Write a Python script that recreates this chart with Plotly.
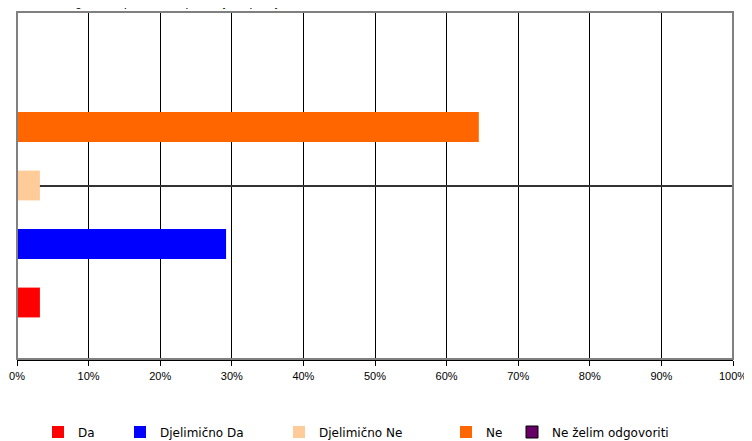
import plotly.graph_objects as go

categories = ["Da", "Djelimično Da", "Djelimično Ne", "Ne", "Ne želim odgovoriti"]
values = [3.2, 29.2, 3.2, 64.5, 0.0]
colors = ["#FF0000", "#0000FF", "#FFCC99", "#FF6600", "#660066"]
tick_vals = [0, 10, 20, 30, 40, 50, 60, 70, 80, 90, 100]
tick_text = ["0%", "10%", "20%", "30%", "40%", "50%", "60%", "70%", "80%", "90%", "100%"]
legend_px = [66, 148, 307, 474, 540]

# page body has an 8px margin; figure is sized to fill the rest of the window
OFF = 8
W, H = 752 - OFF, 441 - OFF
ml, mr, mt, mb = 17 - OFF, 19, 12 - OFF, 82
pw, ph = W - ml - mr, H - mt - mb

fig = go.Figure()
legend_names = ["legend", "legend2", "legend3", "legend4", "legend5"]
for i, (c, v, col) in enumerate(zip(categories, values, colors)):
    fig.add_trace(go.Bar(
        y=["Q"], x=[v], name=c, orientation="h",
        marker=dict(color=col, line=dict(color="#000000" if i == 4 else col, width=1 if i == 4 else 0)),
        legend=legend_names[i],
    ))

leg_font = dict(family="DejaVu Sans, Liberation Sans, sans-serif", size=12, color="#000000")
layout_legends = {}
for i, ln in enumerate(legend_names):
    fx = legend_px[i] - 28 - OFF
    layout_legends[ln] = dict(
        x=(fx - ml) / pw, xanchor="left",
        y=-(432 - 359) / ph, yanchor="middle",
        font=leg_font, bgcolor="rgba(0,0,0,0)", borderwidth=0,
        itemwidth=30, orientation="h",
    )

fig.update_layout(
    width=W, height=H,
    margin=dict(l=ml, r=mr, t=mt, b=mb, autoexpand=False),
    paper_bgcolor="white", plot_bgcolor="white",
    barmode="group", bargap=0.157, bargroupgap=0.49,
    showlegend=True,
    xaxis=dict(
        range=[0, 100], tickvals=tick_vals, ticktext=tick_text,
        showgrid=True, gridcolor="#000000", gridwidth=1,
        showline=True, linecolor="#000000", linewidth=2,
        ticks="outside", ticklen=5, tickcolor="#000000",
        ticklabelstandoff=1,
        tickfont=dict(family="Liberation Sans, Arial, sans-serif", size=11, color="#000000"),
        zeroline=False, fixedrange=True, automargin=False,
    ),
    yaxis=dict(
        showticklabels=False, showgrid=True, gridcolor="#333333", gridwidth=2,
        showline=False, ticks="", zeroline=False, fixedrange=True, automargin=False,
    ),
    shapes=[dict(type="rect", xref="paper", yref="paper", x0=0, x1=1, y0=0, y1=1,
                 line=dict(color="#808080", width=2), layer="above")],
    annotations=[dict(
        text="Struktura odgovora ispitanika na postavljeno pitanje",
        xref="paper", yref="paper", x=-ml / pw, y=1 + 1 / ph,
        xanchor="left", yanchor="bottom", showarrow=False,
        font=dict(family="Liberation Sans, Arial, sans-serif", size=12, color="#000000"),
    )],
    **layout_legends,
)

fig.write_html("out.html")
